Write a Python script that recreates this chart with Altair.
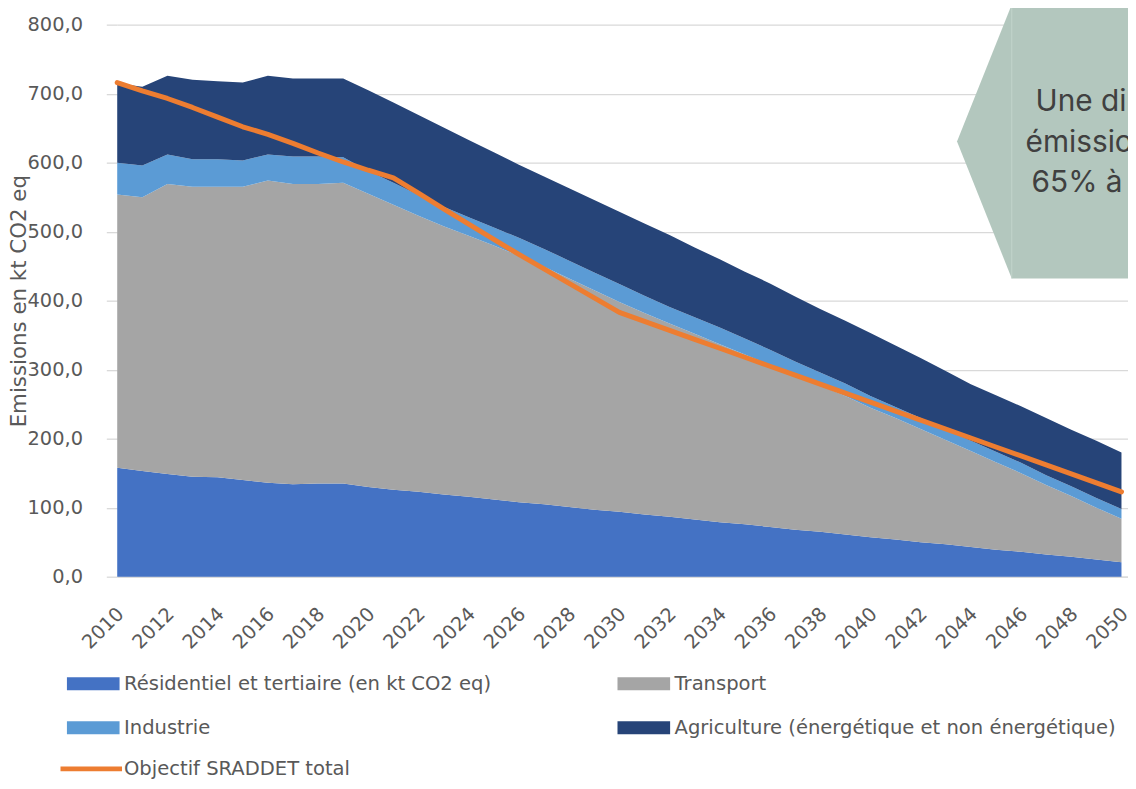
import altair as alt
import pandas as pd

years = list(range(2010, 2051))

residentiel = [158, 153, 149, 145, 144, 140, 136, 134, 135, 135,
               130, 126, 123, 119, 116, 112, 108, 105, 101, 97,
               94, 90, 87, 83, 79, 76, 72, 68, 65, 61,
               57, 54, 50, 47, 43, 39, 36, 32, 29, 25, 21]
transport = [396, 397, 420, 420, 421, 425, 438, 435, 434, 436,
             425, 413, 400, 389, 378, 368, 357, 344, 331, 318,
             304, 292, 280, 269, 258, 246, 235, 224, 212, 201,
             188, 176, 164, 151, 139, 127, 114, 101, 88, 75, 63]
industrie = [46, 46, 43, 40, 40, 38, 38, 40, 40, 37,
             33, 32, 30, 28, 27, 26, 26, 26, 26, 26,
             26, 25, 24, 24, 24, 23, 22, 20, 19, 18,
             17, 16, 16, 15, 15, 15, 15, 14, 14, 14, 14]
agriculture = [115, 114, 114, 115, 113, 113, 114, 113, 113, 114,
               117, 116, 116, 115, 112, 109, 106, 105, 105, 105,
               105, 105, 104, 101, 99, 97, 96, 94, 92, 91,
               91, 89, 87, 85, 82, 82, 82, 83, 82, 83, 82]
objectif = [716, 704, 693, 680, 666, 652, 641, 628, 614, 601,
            589, 578, 556, 533, 511, 489, 467, 446, 425, 404,
            383, 370, 357, 344, 331, 318, 305, 292, 279, 266,
            253, 240, 227, 214, 201, 188, 175, 162, 149, 136, 123]

# stacking order (bottom to top)
stack_names = ["Résidentiel et tertiaire (en kt CO2 eq)", "Transport", "Industrie",
               "Agriculture (énergétique et non énergétique)"]
# legend order (filled column by column)
legend_names = ["Résidentiel et tertiaire (en kt CO2 eq)", "Industrie", "Transport",
                "Agriculture (énergétique et non énergétique)"]
legend_colors = ["#4472C4", "#5B9BD5", "#A5A5A5", "#264478"]
objectif_name = "Objectif SRADDET total"

box_x = [2043.45, 2045.63, 2052.0]
box_top = [630.6, 829.2, 829.2]
box_bottom = [630.6, 432.1, 432.1]
note_lines = ["Une diminution des", "émissions de GES de", "65% à l'horizon 2050"]
note_x = [2046.58, 2046.18, 2046.42]
note_y = [688.2, 628.2, 570.6]

rows = []
for i, (name, vals) in enumerate(zip(stack_names, [residentiel, transport, industrie, agriculture])):
    for yr, v in zip(years, vals):
        rows.append({"annee": yr, "serie": name, "valeur": v, "ordre": i})
df = pd.DataFrame(rows)
df_obj = pd.DataFrame({"annee": years, "valeur": objectif, "serie": objectif_name})
df_box = pd.DataFrame({"annee": box_x, "valeur": box_top, "bas": box_bottom})
df_rule = pd.DataFrame({"annee": [box_x[1]], "valeur": [box_top[1]], "bas": [box_bottom[1]]})
df_note = pd.DataFrame({"annee": note_x, "valeur": note_y, "t": note_lines})

FONT = "DejaVu Sans"
GREY = "#595959"
GRID = "#D9D9D9"

xscale = alt.Scale(domain=[2010, 2050.26], nice=False, zero=False)
yscale = alt.Scale(domain=[0, 800], nice=False)

sym_rect = "M-3.786,-0.929L3.786,-0.929L3.786,0.929L-3.786,0.929Z"
sym_line = "M-4.71,0L4.14,0"

x_axis = alt.Axis(values=list(range(2010, 2051, 2)), format="d", labelAngle=315,
                  labelAlign="right", labelBaseline="middle", labelPadding=34, labelOffset=3,
                  ticks=False, grid=False, domainColor=GRID, domainWidth=1.3,
                  title=None, labelFont=FONT, labelFontSize=19.5, labelColor=GREY,
                  labelOverlap=False)
y_axis = alt.Axis(values=list(range(0, 801, 100)),
                  labelExpr="replace(format(datum.value, '.1f'), '.', ',')",
                  grid=True, gridColor=GRID, gridWidth=1.3, domain=False,
                  ticks=True, tickSize=11, tickColor=GRID, tickWidth=1.3,
                  labelPadding=24, labelFont=FONT, labelFontSize=19.5, labelColor=GREY,
                  title="Emissions en kt CO2 eq", titleFont=FONT, titleFontSize=21.5,
                  titleColor=GREY, titleFontWeight="normal", titleX=-98.5, titleY=278,
                  titleAlign="center", titleBaseline="middle", titleAngle=270)

X = alt.X("annee:Q", scale=xscale, axis=x_axis)

areas = alt.Chart(df).mark_area().encode(
    x=X,
    y=alt.Y("valeur:Q", stack="zero", scale=yscale, axis=y_axis),
    fill=alt.Fill("serie:N", scale=alt.Scale(domain=legend_names, range=legend_colors),
                  legend=alt.Legend(orient="none", legendX=-34, legendY=653.7, columns=2,
                                    columnPadding=126.5, rowPadding=23.5, symbolType=sym_rect,
                                    symbolSize=196, symbolStrokeWidth=0, symbolOpacity=1,
                                    labelFont=FONT, labelFontSize=19.7, labelColor=GREY,
                                    labelOffset=21.1, labelLimit=800, title=None, padding=0)),
    order=alt.Order("ordre:Q"),
)

line = alt.Chart(df_obj).mark_line(strokeWidth=5, strokeCap="round", strokeJoin="round").encode(
    x=X,
    y=alt.Y("valeur:Q", scale=yscale, axis=y_axis),
    stroke=alt.Stroke("serie:N", scale=alt.Scale(domain=[objectif_name], range=["#ED7D31"]),
                      legend=alt.Legend(orient="none", legendX=-34, legendY=739.7,
                                        symbolType=sym_line, symbolSize=196, symbolStrokeWidth=5,
                                        labelFont=FONT, labelFontSize=19.7, labelColor=GREY,
                                        labelOffset=21.1, labelLimit=800, title=None, padding=0)),
)

box = alt.Chart(df_box).mark_area(color="#B3C7BE", opacity=1).encode(
    x=X,
    y=alt.Y("valeur:Q", scale=yscale, stack=None, axis=y_axis),
    y2="bas:Q",
)

rule = alt.Chart(df_rule).mark_rule(color="#C3D4CC", strokeWidth=1).encode(
    x=X,
    y=alt.Y("valeur:Q", scale=yscale, axis=y_axis),
    y2="bas:Q",
)

notes = alt.Chart(df_note).mark_text(align="left", baseline="middle", font="Inter",
                                     fontSize=30, color="#404040").encode(
    x=X,
    y=alt.Y("valeur:Q", scale=yscale, axis=y_axis),
    text="t:N",
)

chart = alt.layer(areas, line, box, rule, notes).properties(
    width=1018, height=556,
    autosize=alt.AutoSizeParams(type="none"),
    padding={"left": 110, "top": 14, "right": 0, "bottom": 203},
).configure_view(stroke=None)

chart.save("out.html", embed_options={"renderer": "svg", "actions": False})
